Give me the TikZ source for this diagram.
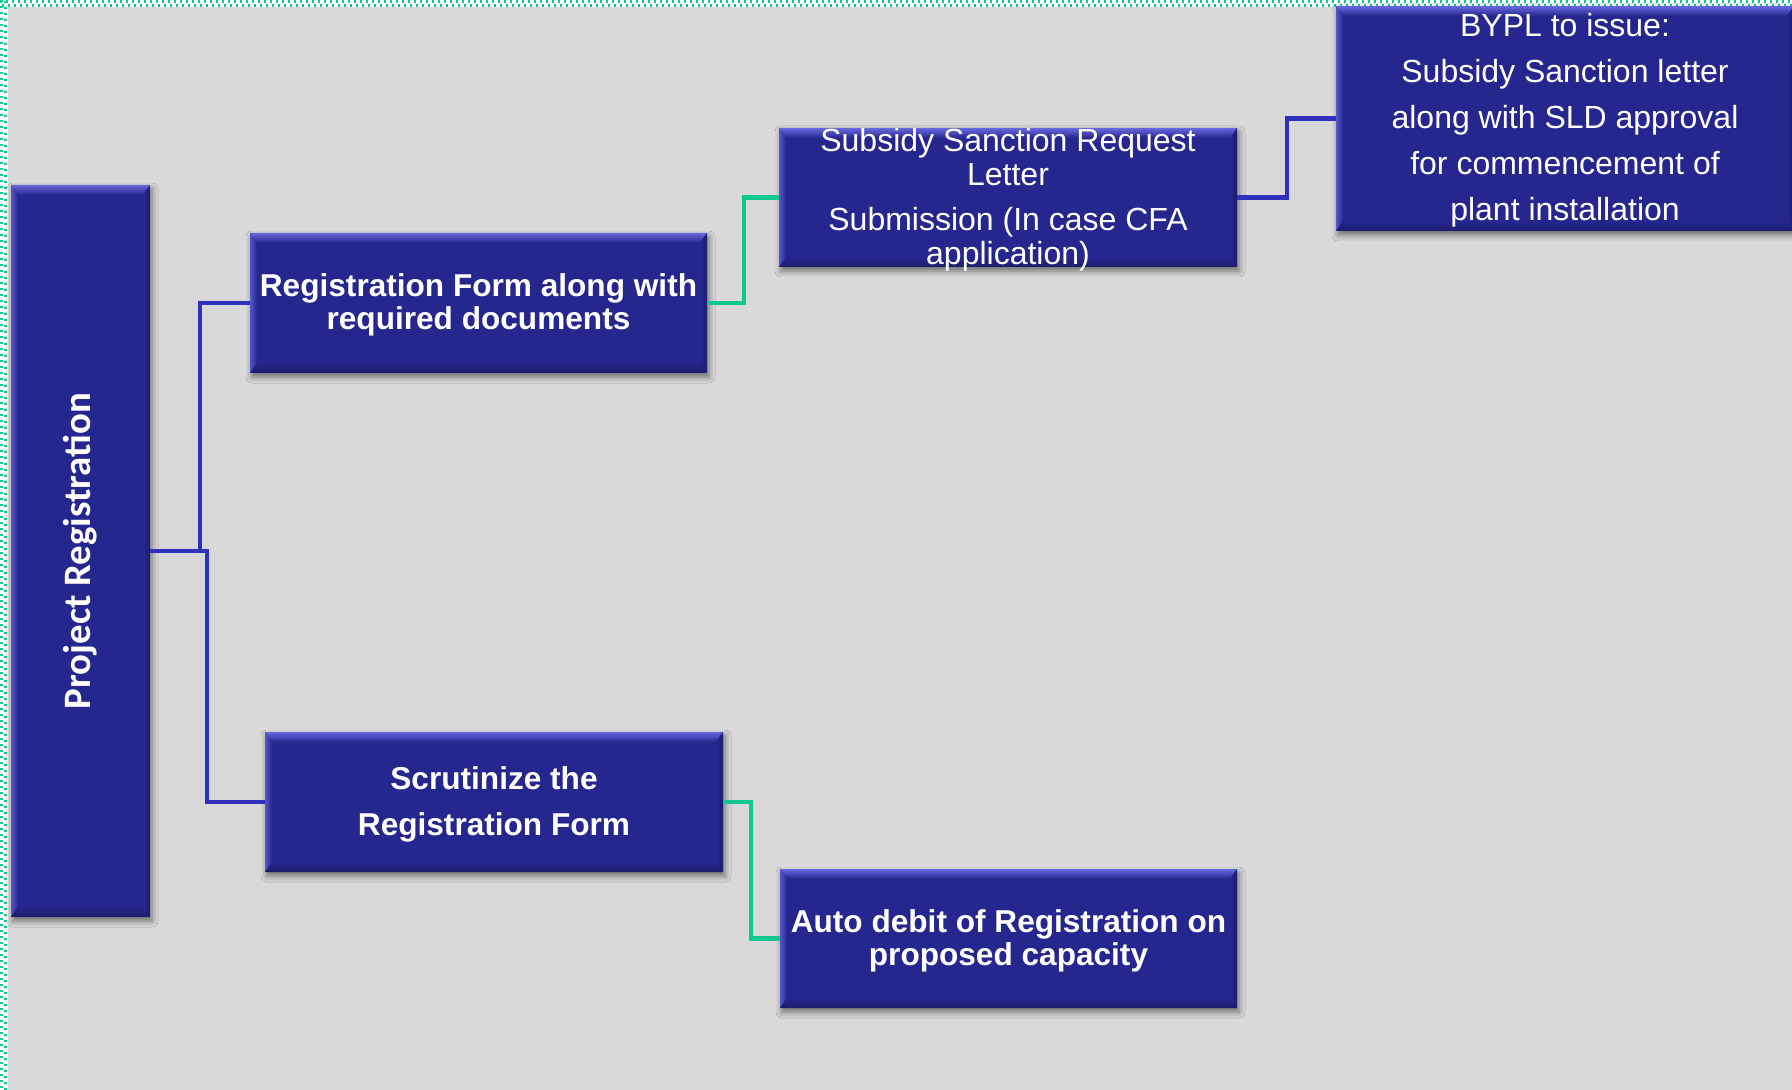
\documentclass[tikz,border=0pt]{standalone}
\usepackage{fontspec}
\setmainfont{Liberation Sans}
\newfontfamily\carlito{Carlito}
\usetikzlibrary{shadows.blur}
\definecolor{bg}{HTML}{D9D9D9}
\definecolor{boxblue}{HTML}{26268F}
\definecolor{bevtop}{HTML}{6868DE}
\definecolor{bevleft}{HTML}{5656CC}
\definecolor{bevdark}{HTML}{1C1C6C}
\definecolor{linkblue}{HTML}{3030BE}
\definecolor{linkgreen}{HTML}{10C890}
\definecolor{dotgreen}{HTML}{10C896}
\tikzset{
  bevel/.style={path picture={
    \path (path picture bounding box.north west) coordinate (bNW)
          (path picture bounding box.north east) coordinate (bNE)
          (path picture bounding box.south west) coordinate (bSW)
          (path picture bounding box.south east) coordinate (bSE);
    \shade[top color=bevtop, bottom color=boxblue] (bNW) -- (bNE) -- ([shift={(-3.5pt,-5pt)}]bNE) -- ([shift={(3.5pt,-5pt)}]bNW) -- cycle;
    \shade[left color=bevleft, right color=boxblue] (bNW) -- ([shift={(3.5pt,-5pt)}]bNW) -- ([shift={(3.5pt,5pt)}]bSW) -- (bSW) -- cycle;
    \shade[bottom color=bevdark, top color=boxblue] (bSW) -- (bSE) -- ([shift={(-3.5pt,5pt)}]bSE) -- ([shift={(3.5pt,5pt)}]bSW) -- cycle;
    \shade[right color=bevdark, left color=boxblue] (bNE) -- ([shift={(-3.5pt,-5pt)}]bNE) -- ([shift={(-3.5pt,5pt)}]bSE) -- (bSE) -- cycle;
  }},
  box/.style={fill=boxblue, inner sep=0pt, outer sep=0pt,
    blur shadow={shadow xshift=1pt, shadow yshift=-2pt, shadow blur radius=3pt, shadow opacity=50},
    bevel},
  txt/.style={text=white, align=center, inner sep=0pt, yshift=-1pt},
  regtxt/.style={txt, font=\fontsize{16pt}{17pt}\selectfont},
  boldtxt/.style={txt, font=\fontsize{15.8pt}{16.5pt}\selectfont\bfseries},
  bluelink/.style={draw=linkblue, line width=2.3pt},
  greenlink/.style={draw=linkgreen, line width=2.3pt},
  dotline/.style={draw=dotgreen, line width=1.1pt, dash pattern=on 1pt off 2pt},
}
\begin{document}
\begin{tikzpicture}[x=0.5pt,y=-0.5pt]
\useasboundingbox (0,0) rectangle (1792,1090);
\fill[bg] (0,0) rectangle (1792,1090);
\fill[white] (0,0) rectangle (1792,7);
\fill[white] (0,0) rectangle (8,1090);
\draw[dotline] (0,1.5) -- (1792,1.5);
\draw[dotline] (1.5,5.5) -- (1792,5.5);
\draw[dotline] (1.5,0) -- (1.5,1090);
\draw[dotline] (5.5,1.5) -- (5.5,1090);

% boxes
\node[box, minimum width=69.5pt, minimum height=366pt] (pr) at (80.5,551) {};
\node[box, minimum width=228.5pt, minimum height=70pt] (rf) at (478.5,303) {};
\node[box, minimum width=229pt, minimum height=69.5pt] (ss) at (1008,197.5) {};
\node[box, minimum width=229pt, minimum height=112.5pt] (by) at (1565,118.5) {};
\node[box, minimum width=229pt, minimum height=70pt] (sc) at (494,802) {};
\node[box, minimum width=228.5pt, minimum height=69.5pt] (ad) at (1008.5,938.5) {};

% texts
\node[txt, yshift=1pt, rotate=90, font=\carlito\fontsize{19.4pt}{21pt}\selectfont\bfseries] (pr-t) at (80.5,551) {Project Registration};
\node[boldtxt] (rf-t) at (rf) {Registration Form along with\\required documents};
\node[regtxt] (ss-t) at (ss) {Subsidy Sanction Request\\Letter\\[5.5pt]Submission (In case CFA\\application)};
\node[txt, font=\fontsize{16pt}{23pt}\selectfont] (by-t) at (by) {BYPL to issue:\\Subsidy Sanction letter\\along with SLD approval\\for commencement of\\plant installation};
\node[txt, font=\fontsize{15.8pt}{23pt}\selectfont\bfseries] (sc-t) at (sc) {Scrutinize the\\Registration Form};
\node[boldtxt] (ad-t) at (ad) {Auto debit of Registration on\\proposed capacity};

% junctions
\coordinate (j1) at (200,551);
\coordinate (j2) at (207,551);
\coordinate (j3) at (744,303);
\coordinate (j4) at (1287,197.5);
\coordinate (j5) at (751,802);

% connectors
\draw[bluelink] (pr.east) -- (j1) |- (rf.west);
\draw[bluelink] (pr.east) -- (j2) |- (sc.west);
\draw[greenlink] (rf.east) -- (j3) |- (ss.west);
\draw[bluelink] (ss.east) -- (j4) |- (by.west);
\draw[greenlink] (sc.east) -- (j5) |- (ad.west);
\end{tikzpicture}
\end{document}
